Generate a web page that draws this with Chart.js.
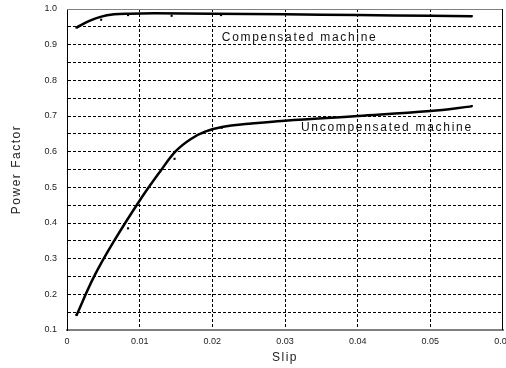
<!DOCTYPE html>
<html>
<head>
<meta charset="utf-8">
<script src="https://cdn.jsdelivr.net/npm/chart.js@4/dist/chart.umd.min.js"></script>
<style>
  html, body { margin: 0; padding: 0; overflow: hidden; background: #fff; }
  canvas { display: block; }
</style>
</head>
<body>
<canvas id="chart" width="520" height="368"></canvas>
<script>
// measured points
const compSlip = [0.0013, 0.0047, 0.0084, 0.0144, 0.0212, 0.0557];
const compPF = [0.948, 0.970, 0.983, 0.981, 0.983, 0.980];
const uncompSlip = [0.0013, 0.0084, 0.0148, 0.0186, 0.0213, 0.0557];
const uncompPF = [0.142, 0.385, 0.580, 0.652, 0.667, 0.728];

// fitted curves
const compCurveSlip = [0.0013, 0.0030, 0.0046, 0.0065, 0.0085, 0.012, 0.02, 0.03, 0.04, 0.05, 0.0557];
const compCurvePF = [0.948, 0.966, 0.978, 0.985, 0.987, 0.988, 0.987, 0.985, 0.983, 0.981, 0.980];
const uncompCurveSlip = [0.0013, 0.0037, 0.0064, 0.0101, 0.0128, 0.0150, 0.0170, 0.0190, 0.0215, 0.025, 0.03, 0.04, 0.05, 0.0557];
const uncompCurvePF = [0.141, 0.249, 0.347, 0.466, 0.544, 0.602, 0.635, 0.656, 0.670, 0.678, 0.687, 0.700, 0.714, 0.727];

const FONT = "Arial, 'Liberation Sans', sans-serif";

const pairs = (xs, ys) => xs.map((x, i) => ({x: x, y: ys[i]}));

const curve = (xs, ys) => ({
  data: pairs(xs, ys),
  showLine: true,
  borderColor: '#000',
  borderWidth: 2.5,
  pointRadius: 0,
  tension: 0.4
});

const dots = (xs, ys) => ({
  data: pairs(xs, ys),
  showLine: false,
  pointStyle: 'rect',
  pointRadius: 1.5,
  pointBackgroundColor: '#000',
  pointBorderWidth: 0
});

const framePlugin = {
  id: 'frame',
  beforeDatasetsDraw(chart) {
    const {ctx, chartArea: a} = chart;
    ctx.save();
    ctx.lineWidth = 1;
    ctx.strokeStyle = '#808080';
    ctx.beginPath();
    ctx.moveTo(a.left, a.top + 0.5);
    ctx.lineTo(a.right, a.top + 0.5);
    ctx.stroke();
    ctx.strokeStyle = '#000';
    ctx.beginPath();
    ctx.moveTo(a.right - 0.5, a.top);
    ctx.lineTo(a.right - 0.5, a.bottom);
    ctx.stroke();
    ctx.restore();
  },
  afterDatasetsDraw(chart) {
    const {ctx, scales: {x, y}} = chart;
    ctx.save();
    ctx.font = '12px ' + FONT;
    ctx.letterSpacing = '1.7px';
    ctx.fillStyle = '#111';
    ctx.textAlign = 'left';
    ctx.textBaseline = 'middle';
    ctx.fillText('Compensated machine', x.getPixelForValue(0.0213), y.getPixelForValue(0.92));
    ctx.fillText('Uncompensated machine', x.getPixelForValue(0.0322), y.getPixelForValue(0.667));
    ctx.restore();
  }
};

const chart = new Chart(document.getElementById('chart'), {
  type: 'scatter',
  data: {
    datasets: [
      curve(compCurveSlip, compCurvePF),
      curve(uncompCurveSlip, uncompCurvePF),
      dots(compSlip, compPF),
      dots(uncompSlip, uncompPF)
    ]
  },
  options: {
    responsive: false,
    animation: false,
    layout: { padding: { top: 9, right: 17, bottom: 0, left: 0 } },
    plugins: { legend: { display: false }, tooltip: { enabled: false } },
    scales: {
      x: {
        type: 'linear',
        min: 0,
        max: 0.06,
        afterFit: s => { s.height = 38; s.paddingLeft = 0; s.paddingRight = 0; },
        ticks: {
          stepSize: 0.01,
          autoSkip: false,
          maxRotation: 0,
          padding: 6,
          color: '#222',
          font: { family: FONT, size: 9 },
          callback: v => v === 0 ? '0' : v.toFixed(2)
        },
        grid: {
          drawTicks: false,
          lineWidth: 1,
          color: c => (c.tick && (c.tick.value < 1e-6 || c.tick.value > 0.06 - 1e-6)) ? 'rgba(0,0,0,0)' : '#000'
        },
        border: { color: '#808080', width: 2, dash: [3, 2] },
        title: {
          display: true,
          text: 'Slip',
          color: '#222',
          font: { family: FONT, size: 12 },
          padding: { top: 0, bottom: 3 }
        }
      },
      y: {
        min: 0.1,
        max: 1.0,
        afterFit: s => { s.width = 67; s.paddingTop = 0; s.paddingBottom = 0; },
        ticks: {
          stepSize: 0.05,
          padding: 10,
          color: '#222',
          font: { family: FONT, size: 9 },
          callback: v => Math.abs(v * 10 - Math.round(v * 10)) < 1e-6 ? v.toFixed(1) : ''
        },
        grid: {
          drawTicks: false,
          lineWidth: 1,
          color: c => (c.tick && (c.tick.value < 0.1 + 1e-6 || c.tick.value > 1 - 1e-6)) ? 'rgba(0,0,0,0)' : '#000'
        },
        border: { color: '#000', width: 1, dash: [3, 2] },
        title: {
          display: true,
          text: 'Power Factor',
          color: '#222',
          font: { family: FONT, size: 12 },
          padding: { top: 9, bottom: 0 }
        }
      }
    }
  },
  plugins: [framePlugin]
});

// axis titles are letter-spaced in the original
['x', 'y'].forEach(id => {
  const s = chart.scales[id];
  const base = s.drawTitle;
  s.drawTitle = function () {
    this.ctx.save();
    this.ctx.letterSpacing = '1.5px';
    base.call(this);
    this.ctx.restore();
  };
});
chart.draw();
</script>
</body>
</html>
